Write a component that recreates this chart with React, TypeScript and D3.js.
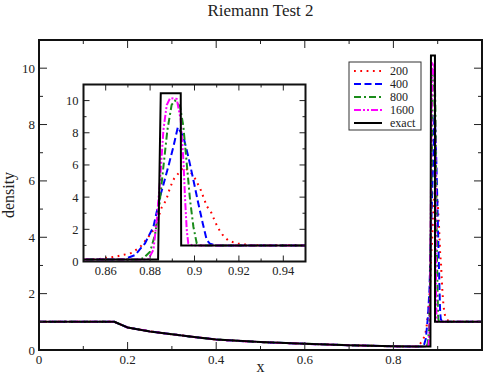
import React from 'react'
import * as d3 from 'd3'

const W = 485
const H = 377
const FONT = 'Liberation Serif, Times New Roman, serif'

const title = 'Riemann Test 2'
const xLabel = 'x'
const yLabel = 'density'

// rarefaction part, same for every curve left of the shell
const rareX = [0, 0.17, 0.2, 0.25, 0.3, 0.35, 0.4, 0.5, 0.6, 0.7, 0.8, 0.85]
const rareRho = [1, 1, 0.8, 0.66, 0.56, 0.46, 0.37, 0.28, 0.22, 0.17, 0.13, 0.12]

// shell region
const exactX = [0.8836, 0.8848, 0.8938, 0.894, 0.95, 1.0]
const exactRho = [0.12, 10.45, 10.45, 1.0, 1.0, 1.0]

const n200X = [0.8537, 0.8574, 0.8612, 0.865, 0.8682, 0.8717, 0.8755, 0.8785, 0.8807, 0.8822, 0.8852, 0.8872, 0.889, 0.8908, 0.895, 0.898, 0.9005, 0.9028, 0.9055, 0.9077, 0.9092, 0.9107, 0.9127, 0.9152, 0.919, 0.925, 0.95, 1.0]
const n200Rho = [0.13, 0.16, 0.24, 0.32, 0.42, 0.53, 0.9, 1.4, 1.8, 2.1, 3.35, 3.8, 4.6, 5.15, 5.85, 5.6, 5.1, 4.45, 3.45, 3.0, 2.5, 2.06, 1.65, 1.3, 1.12, 1.02, 1.0, 1.0]

const n400X = [0.868, 0.8732, 0.8777, 0.8815, 0.8845, 0.8882, 0.8905, 0.8925, 0.895, 0.8972, 0.8995, 0.9017, 0.9037, 0.9055, 0.907, 0.91, 0.95, 1.0]
const n400Rho = [0.12, 0.4, 1.13, 2.16, 4.03, 5.9, 7.14, 8.35, 7.76, 6.52, 5.07, 3.62, 2.38, 1.34, 1.1, 1.0, 1.0, 1.0]

const n800X = [0.874, 0.877, 0.88, 0.8822, 0.8841, 0.886, 0.8878, 0.8897, 0.8912, 0.8935, 0.895, 0.8965, 0.898, 0.8995, 0.901, 0.903, 0.95, 1.0]
const n800Rho = [0.12, 0.2, 0.61, 1.65, 3.41, 5.9, 8.18, 9.73, 10.0, 9.63, 8.38, 6.1, 3.82, 2.16, 1.13, 1.0, 1.0, 1.0]

const n1600X = [0.877, 0.8792, 0.8815, 0.883, 0.8845, 0.886, 0.8875, 0.889, 0.892, 0.8938, 0.895, 0.8957, 0.8965, 0.8972, 0.899, 0.95, 1.0]
const n1600Rho = [0.12, 0.15, 0.72, 2.58, 5.07, 8.18, 9.73, 10.15, 10.1, 8.8, 6.3, 4.03, 1.96, 1.13, 1.0, 1.0, 1.0]

const seriesNames = ['200', '400', '800', '1600', 'exact']
const seriesColors = ['#ff0000', '#0000ff', '#1a8c1a', '#ff00ff', '#000000']
const seriesDash = ['1.8 4.5', '7 3.5', '7 3 2 3', '7 2 2 2 2 2', 'none']

const mainXMajor = [0, 0.2, 0.4, 0.6, 0.8]
const mainXMinor = [0.1, 0.3, 0.5, 0.7, 0.9]
const yMajor = [0, 2, 4, 6, 8, 10]
const yMinor = [1, 3, 5, 7, 9]
const insetXMajor = [0.86, 0.88, 0.9, 0.92, 0.94]
const insetXMinor = [0.87, 0.89, 0.91, 0.93]

type Pt = [number, number]
const zip = (xs: number[], ys: number[]): Pt[] => xs.map((x, i) => [x, ys[i]])
const rare = zip(rareX, rareRho)
const seriesData: Pt[][] = [
  rare.concat(zip(n200X, n200Rho)),
  rare.concat(zip(n400X, n400Rho)),
  rare.concat(zip(n800X, n800Rho)),
  rare.concat(zip(n1600X, n1600Rho)),
  rare.concat(zip(exactX, exactRho)),
]

type PanelProps = {
  id: string
  x: d3.ScaleLinear<number, number>
  y: d3.ScaleLinear<number, number>
  xMajor: number[]
  xMinor: number[]
  majorLen: number
  minorLen: number
  fontSize: number
  xLabelDy: number
  yLabelDx: number
}

function Panel({ id, x, y, xMajor, xMinor, majorLen, minorLen, fontSize, xLabelDy, yLabelDx }: PanelProps) {
  const [x0, x1] = x.range()
  const [y0, y1] = y.range()
  const line = d3
    .line<Pt>()
    .x((d) => x(d[0]))
    .y((d) => y(d[1]))
  const tickStroke = '#222'
  return (
    <g>
      <defs>
        <clipPath id={id}>
          <rect x={x0} y={y1} width={x1 - x0} height={y0 - y1} />
        </clipPath>
      </defs>
      <rect x={x0} y={y1} width={x1 - x0} height={y0 - y1} fill="#fff" />
      <g clipPath={`url(#${id})`}>
        {seriesData.map((d, i) => (
          <path
            key={i}
            d={line(d) || ''}
            fill="none"
            stroke={seriesColors[i]}
            strokeWidth={2}
            strokeDasharray={seriesDash[i]}
            strokeLinejoin="miter"
          />
        ))}
      </g>
      {/* ticks on all four sides, pointing inward */}
      {xMajor.concat(xMinor).map((v, i) => {
        const len = i < xMajor.length ? majorLen : minorLen
        return (
          <g key={'xt' + i} stroke={tickStroke} strokeWidth={1}>
            <line x1={x(v)} x2={x(v)} y1={y0} y2={y0 - len} />
            <line x1={x(v)} x2={x(v)} y1={y1} y2={y1 + len} />
          </g>
        )
      })}
      {yMajor.concat(yMinor).map((v, i) => {
        const len = i < yMajor.length ? majorLen : minorLen
        return (
          <g key={'yt' + i} stroke={tickStroke} strokeWidth={1}>
            <line x1={x0} x2={x0 + len} y1={y(v)} y2={y(v)} />
            <line x1={x1} x2={x1 - len} y1={y(v)} y2={y(v)} />
          </g>
        )
      })}
      <rect x={x0} y={y1} width={x1 - x0} height={y0 - y1} fill="none" stroke="#111" strokeWidth={2} />
      {xMajor.map((v) => (
        <text key={'xl' + v} x={x(v)} y={y0 + xLabelDy} textAnchor="middle" fontSize={fontSize} fontFamily={FONT} fill="#222">
          {String(v)}
        </text>
      ))}
      {yMajor.map((v) => (
        <text key={'yl' + v} x={x0 - yLabelDx} y={y(v)} dy="0.35em" textAnchor="end" fontSize={fontSize} fontFamily={FONT} fill="#222">
          {String(v)}
        </text>
      ))}
    </g>
  )
}

export default function App() {
  const mainX = d3.scaleLinear().domain([0, 1]).range([39, 482])
  const mainY = d3.scaleLinear().domain([0, 11]).range([350, 40])
  const insetX = d3.scaleLinear().domain([0.85, 0.95]).range([83.5, 305.5])
  const insetY = d3.scaleLinear().domain([0, 11]).range([261.5, 84.5])

  const legend = { x: 349, y: 62, w: 72, h: 68, row: 13, first: 9 }

  return (
    <svg width={W} height={H} style={{ position: 'absolute', left: 0, top: 0, background: '#fff' }}>
      <text x={W / 2 + 18} y={16} textAnchor="middle" fontSize={17} fontFamily={FONT} fill="#222">
        {title}
      </text>
      <Panel id="clipMain" x={mainX} y={mainY} xMajor={mainXMajor} xMinor={mainXMinor} majorLen={8} minorLen={4} fontSize={13} xLabelDy={14} yLabelDx={4} />
      <text x={(39 + 482) / 2} y={372} textAnchor="middle" fontSize={16} fontFamily={FONT} fill="#222">
        {xLabel}
      </text>
      <text transform={`translate(14,195) rotate(-90)`} textAnchor="middle" fontSize={16} fontFamily={FONT} fill="#222">
        {yLabel}
      </text>
      <Panel id="clipInset" x={insetX} y={insetY} xMajor={insetXMajor} xMinor={insetXMinor} majorLen={6} minorLen={3} fontSize={12.5} xLabelDy={13.5} yLabelDx={5} />
      <g>
        <rect x={legend.x} y={legend.y} width={legend.w} height={legend.h} fill="#fff" stroke="#333" strokeWidth={1} />
        {seriesNames.map((name, i) => {
          const cy = legend.y + legend.first + i * legend.row
          return (
            <g key={name}>
              <line x1={354} x2={382} y1={cy} y2={cy} stroke={seriesColors[i]} strokeWidth={2} strokeDasharray={seriesDash[i]} />
              <text x={390} y={cy} dy="0.35em" fontSize={12} fontFamily={FONT} fill="#222">
                {name}
              </text>
            </g>
          )
        })}
      </g>
    </svg>
  )
}
